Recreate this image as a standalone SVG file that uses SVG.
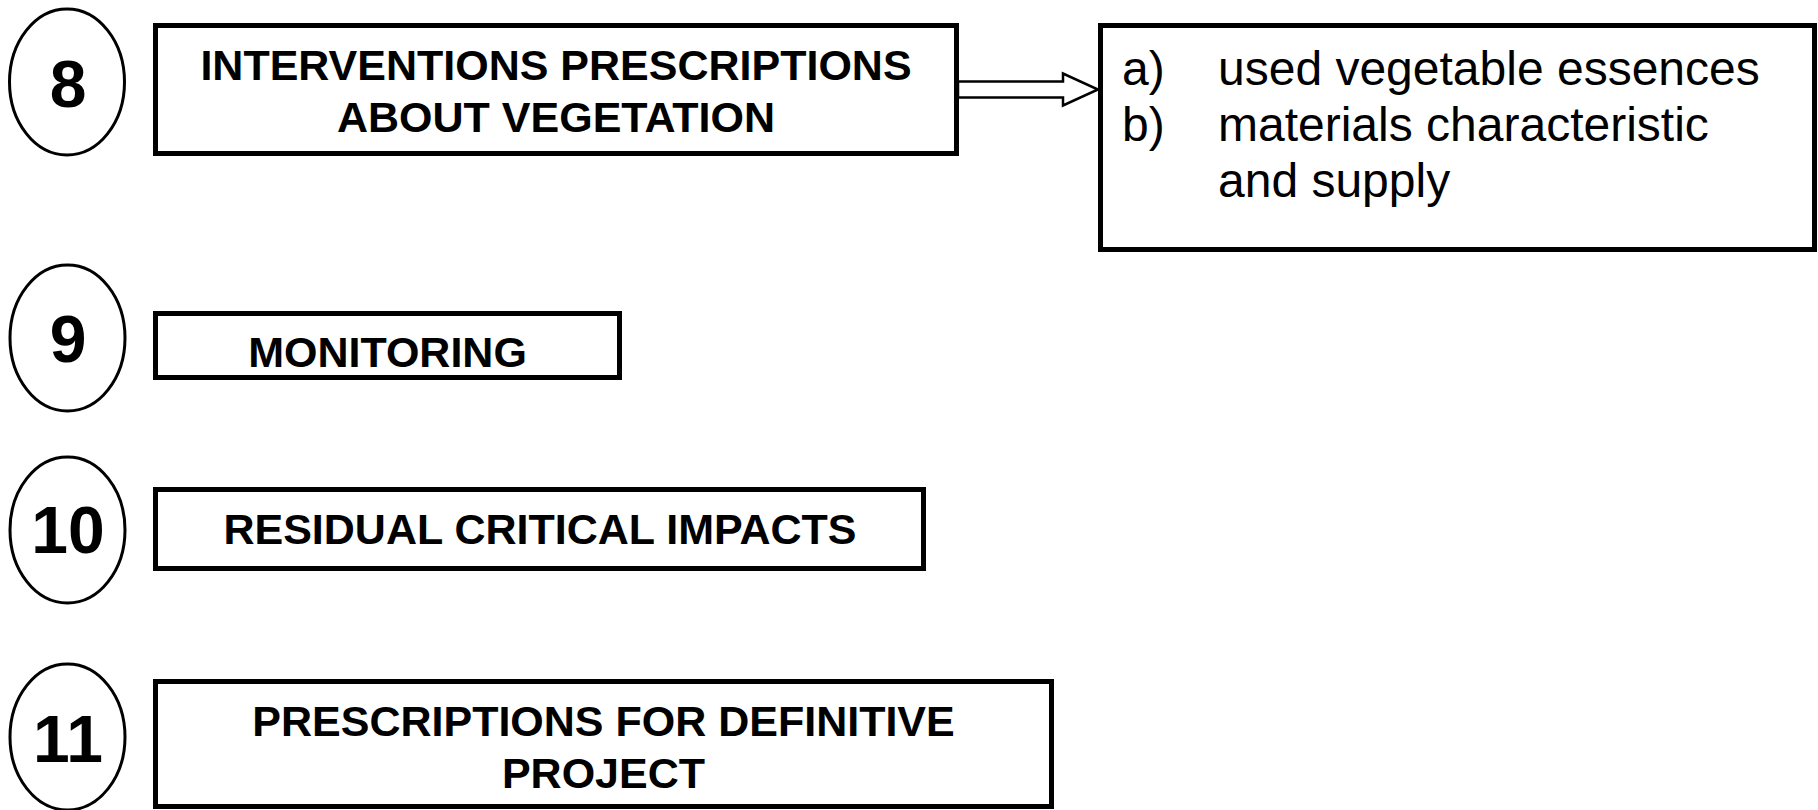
<svg xmlns="http://www.w3.org/2000/svg" width="1818" height="810" viewBox="0 0 1818 810">
<style>
.box{fill:#fff;stroke:#000;stroke-width:5}
.ell{fill:#fff;stroke:#000;stroke-width:3}
.num{font-family:"Liberation Sans",Arial,sans-serif;font-weight:bold;font-size:66px;text-anchor:middle;fill:#000}
.bt{font-family:"Liberation Sans",Arial,sans-serif;font-weight:bold;font-size:43px;text-anchor:middle;fill:#000}
.rt{font-family:"Liberation Sans",Arial,sans-serif;font-size:48px;fill:#000}
.arr{fill:#fff;stroke:#000;stroke-width:2.5;stroke-linejoin:miter}
</style>
<rect width="1818" height="810" fill="#fff"/>
<g id="n8">
<ellipse class="ell" cx="67" cy="82" rx="57.5" ry="73"/>
<text class="num" x="68" y="107">8</text>
</g>
<g id="box8">
<rect class="box" x="155.5" y="25.5" width="801" height="128"/>
<text class="bt" x="556" y="80">INTERVENTIONS PRESCRIPTIONS</text>
<text class="bt" x="556" y="132">ABOUT VEGETATION</text>
</g>
<g id="connectors">
<polygon class="arr" points="958,81.5 1063,81.5 1063,73.5 1098,89.5 1063,105.5 1063,97.5 958,97.5"/>
</g>
<g id="box8detail">
<rect class="box" x="1100.5" y="25.5" width="714" height="224"/>
<text class="rt" x="1122" y="85">a)</text>
<text class="rt" x="1218" y="85">used vegetable essences</text>
<text class="rt" x="1122" y="141">b)</text>
<text class="rt" x="1218" y="141">materials characteristic</text>
<text class="rt" x="1218" y="197">and supply</text>
</g>
<g id="n9">
<ellipse class="ell" cx="67.5" cy="338" rx="57.5" ry="73"/>
<text class="num" x="68" y="362">9</text>
</g>
<g id="box9">
<rect class="box" x="155.5" y="313.5" width="464" height="64"/>
<text class="bt" x="387.5" y="367">MONITORING</text>
</g>
<g id="n10">
<ellipse class="ell" cx="67.5" cy="530" rx="57.5" ry="73"/>
<text class="num" x="68" y="553">10</text>
</g>
<g id="box10">
<rect class="box" x="155.5" y="489.5" width="768" height="79"/>
<text class="bt" x="540" y="544">RESIDUAL CRITICAL IMPACTS</text>
</g>
<g id="n11">
<ellipse class="ell" cx="67.5" cy="737" rx="57.5" ry="73"/>
<text class="num" x="68" y="762">11</text>
</g>
<g id="box11">
<rect class="box" x="155.5" y="681.5" width="896" height="125"/>
<text class="bt" x="603.5" y="736">PRESCRIPTIONS FOR DEFINITIVE</text>
<text class="bt" x="603.5" y="788">PROJECT</text>
</g>
</svg>
